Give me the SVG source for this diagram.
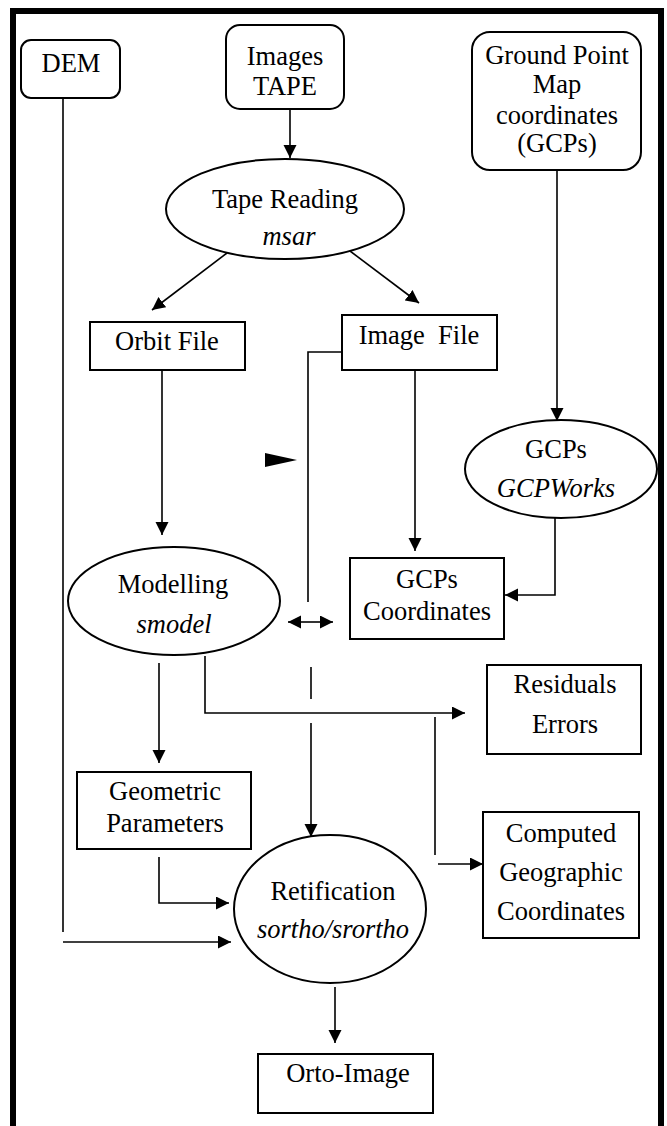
<svg xmlns="http://www.w3.org/2000/svg" width="667" height="1126" viewBox="0 0 667 1126">
<defs>
<marker id="ah" markerUnits="userSpaceOnUse" markerWidth="14" markerHeight="14" refX="13" refY="6.5" orient="auto-start-reverse"><path d="M0,0 L13,6.5 L0,13 z" fill="#000"/></marker>
<style>
.t{font-family:"Liberation Serif","Times New Roman",serif;font-size:26.5px;fill:#000;text-anchor:middle}
.i{font-style:italic}
.n{fill:#fff;stroke:#000;stroke-width:2}
.c{fill:none;stroke:#000;stroke-width:1.6}
.a{marker-end:url(#ah)}
</style>
</defs>
<rect width="667" height="1126" fill="#fff"/>
<path d="M13,1140 V11 H661 V1140" fill="none" stroke="#000" stroke-width="6"/>
<g id="connectors">
<path class="c" d="M63,98 V932"/>
<path class="c a" d="M63,942 H231"/>
<path class="c a" d="M290,109 V158"/>
<path class="c a" d="M227,253 L152,310"/>
<path class="c a" d="M346,248 L419,303"/>
<path class="c a" d="M557,170 V421"/>
<path class="c a" d="M162,370 V535"/>
<path class="c a" d="M415,370 V551"/>
<path class="c" d="M342,352 H308 V602"/>
<polygon points="265,453 297,460 265,467" fill="#000"/>
<path class="c a" d="M555,518 V595 H505"/>
<path class="c" d="M301,622 H321" />
<path class="c a" d="M300,622 H288"/>
<path class="c a" d="M320,622 H333"/>
<path class="c" d="M311,667 V699"/>
<path class="c a" d="M311,723 V837"/>
<path class="c a" d="M159,663 V763"/>
<path class="c a" d="M205,656 V713 H465"/>
<path class="c" d="M435,717 V855"/>
<path class="c a" d="M438,864 H483"/>
<path class="c a" d="M159,857 V903 H229"/>
<path class="c a" d="M335,987 V1043"/>
</g>
<g id="dem"><rect class="n" x="21" y="40" width="99" height="58" rx="10"/><text class="t" x="71" y="72">DEM</text></g>
<g id="images"><rect class="n" x="226" y="25" width="118" height="84" rx="14"/><text class="t" x="285" y="65">Images</text><text class="t" x="285" y="95">TAPE</text></g>
<g id="ground"><rect class="n" x="472" y="32" width="169" height="138" rx="18"/><text class="t" x="557" y="64">Ground Point</text><text class="t" x="557" y="93">Map</text><text class="t" x="557" y="124">coordinates</text><text class="t" x="557" y="152">(GCPs)</text></g>
<g id="tape"><ellipse class="n" cx="285" cy="209" rx="119" ry="50"/><text class="t" x="285" y="208">Tape Reading</text><text class="t i" x="289" y="245">msar</text></g>
<g id="orbit"><rect class="n" x="90" y="322" width="155" height="48"/><text class="t" x="167" y="350">Orbit File</text></g>
<g id="imagefile"><rect class="n" x="342" y="315" width="155" height="55"/><text class="t" x="419" y="344" xml:space="preserve">Image  File</text></g>
<g id="gcps"><ellipse class="n" cx="561" cy="469" rx="96" ry="49"/><text class="t" x="556" y="458">GCPs</text><text class="t i" x="556" y="497">GCPWorks</text></g>
<g id="gcpcoord"><rect class="n" x="350" y="558" width="154" height="81"/><text class="t" x="427" y="588">GCPs</text><text class="t" x="427" y="620">Coordinates</text></g>
<g id="modelling"><ellipse class="n" cx="174" cy="601" rx="106" ry="54"/><text class="t" x="173" y="593">Modelling</text><text class="t i" x="174" y="633">smodel</text></g>
<g id="residuals"><rect class="n" x="487" y="665" width="154" height="89"/><text class="t" x="565" y="693">Residuals</text><text class="t" x="565" y="733">Errors</text></g>
<g id="geometric"><rect class="n" x="77" y="772" width="174" height="77"/><text class="t" x="165" y="800">Geometric</text><text class="t" x="165" y="832">Parameters</text></g>
<g id="retification"><ellipse class="n" cx="330" cy="909" rx="96" ry="74"/><text class="t" x="333" y="900">Retification</text><text class="t i" x="333" y="938">sortho/srortho</text></g>
<g id="computed"><rect class="n" x="483" y="812" width="156" height="126"/><text class="t" x="561" y="842">Computed</text><text class="t" x="561" y="881">Geographic</text><text class="t" x="561" y="920">Coordinates</text></g>
<g id="orto"><rect class="n" x="258" y="1054" width="175" height="59"/><text class="t" x="348" y="1082">Orto-Image</text></g>
</svg>
